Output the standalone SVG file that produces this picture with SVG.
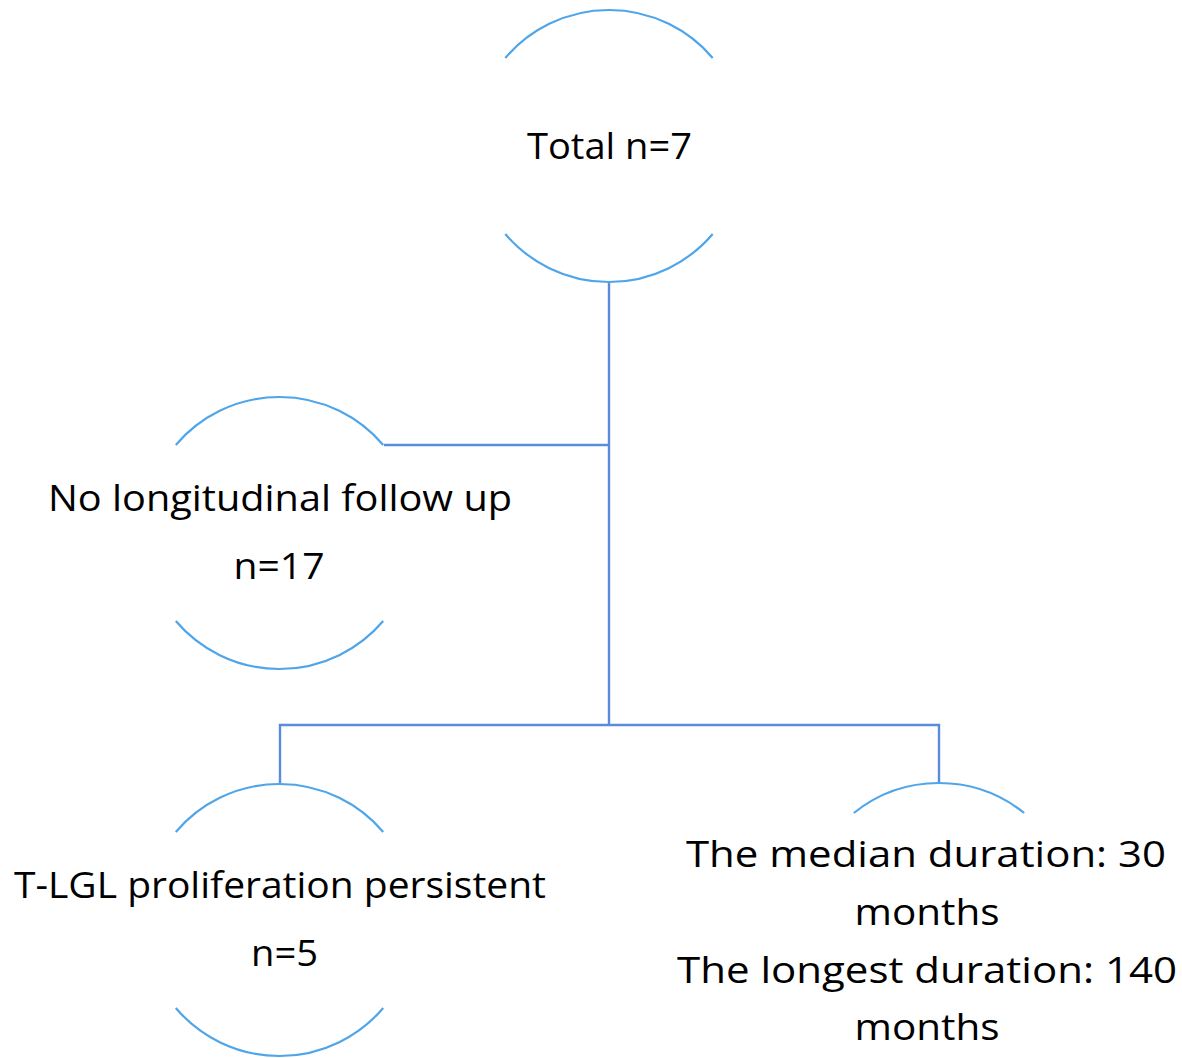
<svg xmlns="http://www.w3.org/2000/svg" width="1182" height="1058" viewBox="0 0 1182 1058">
<style>
.arc{fill:none;stroke:#4EA5EA;stroke-width:2.2}
.con{fill:none;stroke:#5A8CDD;stroke-width:2.4}
.t{font-family:"Open Sans","Liberation Sans",sans-serif;font-size:37px;fill:#000;text-anchor:middle}
</style>
<rect width="1182" height="1058" fill="#fff"/>
<g id="connectors">
<path class="con" d="M609,282 V725"/>
<path class="con" d="M384,445 H609"/>
<path class="con" d="M280,783 V725 H939 V783"/>
</g>
<g id="node-total">
<path class="arc" d="M505.3,58 A136,136 0 0 1 712.7,58"/>
<path class="arc" d="M505.3,234 A136,136 0 0 0 712.7,234"/>
<text class="t" x="609.5" y="159" textLength="165" lengthAdjust="spacingAndGlyphs">Total n=7</text>
</g>
<g id="node-no-follow-up">
<path class="arc" d="M175.8,445 A136,136 0 0 1 383.2,445"/>
<path class="arc" d="M175.8,621 A136,136 0 0 0 383.2,621"/>
<text class="t" x="280" y="511" textLength="464" lengthAdjust="spacingAndGlyphs">No longitudinal follow up</text>
<text class="t" x="279" y="579" textLength="91" lengthAdjust="spacingAndGlyphs">n=17</text>
</g>
<g id="node-persistent">
<path class="arc" d="M175.8,832 A136,136 0 0 1 383.2,832"/>
<path class="arc" d="M175.8,1008 A136,136 0 0 0 383.2,1008"/>
<text class="t" x="280" y="898" textLength="532" lengthAdjust="spacingAndGlyphs">T-LGL proliferation persistent</text>
<text class="t" x="284.5" y="966" textLength="67" lengthAdjust="spacingAndGlyphs">n=5</text>
</g>
<g id="node-duration">
<path class="arc" d="M853.8,813 A136,136 0 0 1 1024.2,813"/>
<text class="t" x="926" y="867" textLength="480" lengthAdjust="spacingAndGlyphs">The median duration: 30</text>
<text class="t" x="927" y="925" textLength="145" lengthAdjust="spacingAndGlyphs">months</text>
<text class="t" x="927" y="983" textLength="500" lengthAdjust="spacingAndGlyphs">The longest duration: 140</text>
<text class="t" x="927" y="1040" textLength="145" lengthAdjust="spacingAndGlyphs">months</text>
</g>
</svg>
